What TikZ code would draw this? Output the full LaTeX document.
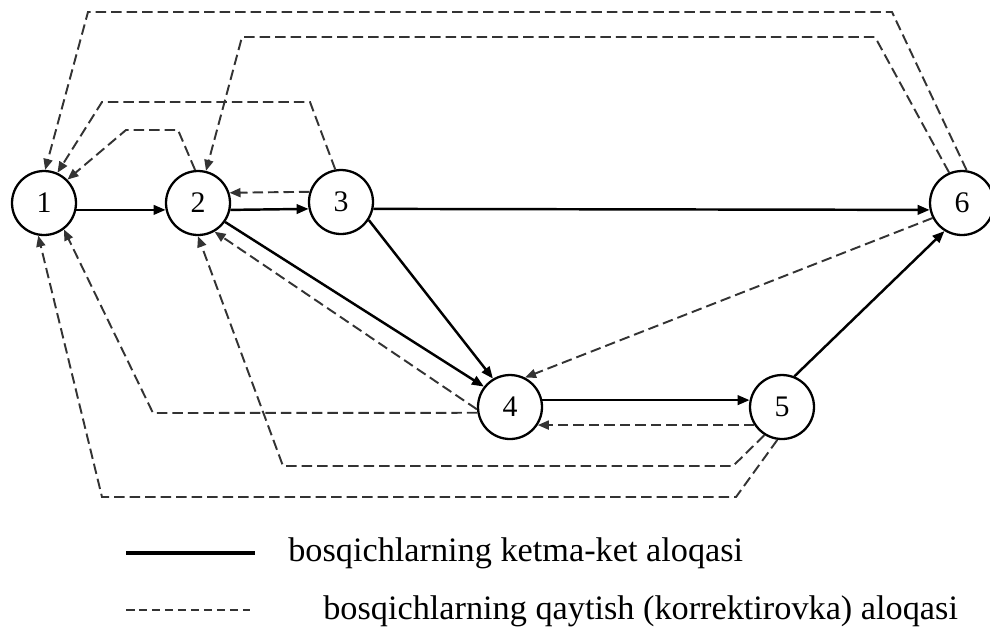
\documentclass[tikz,border=0pt]{standalone}
\usepackage{fontspec}
\setmainfont{Liberation Serif}
\usetikzlibrary{arrows.meta}
\begin{document}
\begin{tikzpicture}[x=0.02cm,y=-0.02cm,
  stage/.style={circle,draw=black,line width=1.3pt,minimum size=1.28cm,inner sep=0pt,fill=white,font=\fontsize{17}{17}\selectfont},
  seqlink/.style={line width=1.4pt,-{Triangle[length=2.4mm,width=1.9mm]}},
  backlink/.style={line width=1.1pt,draw=black!80,dash pattern=on 0.21cm off 0.1cm,-{Triangle[length=2.2mm,width=1.8mm]}},
  legtext/.style={anchor=base west,inner sep=0pt,font=\fontsize{19.5}{23}\selectfont}]
\useasboundingbox (0,0) rectangle (990,627);
% stages
\node[stage] (n1) at (44,203) {1};
\node[stage] (n2) at (198,203) {2};
\node[stage] (n3) at (341,202) {3};
\node[stage] (n6) at (962,203) {6};
\node[stage] (n4) at (510,407) {4};
\node[stage] (n5) at (782,407) {5};
% sequential links
\draw[seqlink] (n1.-12) -- (n2.192);
\draw[seqlink] (n2.-12) -- (n3.192);
\draw[seqlink] (n3.-12) -- (n6.192);
\draw[seqlink] (n2.-35) -- (n4.142);
\draw[seqlink] (n3.-33) -- (n4.121);
\draw[seqlink] (n4.12) -- (n5.168);
\draw[seqlink] (n5.68) -- (n6.238);
% corner points of return links
\coordinate (c61a) at (892,12);
\coordinate (c61b) at (88,12);
\coordinate (c62a) at (875,37);
\coordinate (c62b) at (242,37);
\coordinate (c31a) at (310,102);
\coordinate (c31b) at (102,102);
\coordinate (c21a) at (178,130);
\coordinate (c21b) at (126,130);
\coordinate (c41) at (153,413);
\coordinate (c52a) at (733,466);
\coordinate (c52b) at (283,466);
\coordinate (c51a) at (736,497);
\coordinate (c51b) at (102,497);
% return (correction) links
\draw[backlink] (n3.162) -- (n2.18);
\draw[backlink] (n5.213) -- (n4.-33);
\draw[backlink] (n6.207) -- (n4.63);
\draw[backlink] (n4.184) -- (n2.-60);
\draw[backlink] (n4.190) -- (c41) -- (n1.-53);
\draw[backlink] (n5.238) -- (c52a) -- (c52b) -- (n2.-90);
\draw[backlink] (n5.262) -- (c51a) -- (c51b) -- (n1.-100);
\draw[backlink] (n6.82) -- (c61a) -- (c61b) -- (n1.88);
\draw[backlink] (n6.113) -- (c62a) -- (c62b) -- (n2.76);
\draw[backlink] (n3.100) -- (c31a) -- (c31b) -- (n1.66);
\draw[backlink] (n2.95) -- (c21a) -- (c21b) -- (n1.45);
% legend
\coordinate (ls1) at (126,553);
\coordinate (le1) at (255,553);
\coordinate (ls2) at (126,610);
\coordinate (le2) at (250,610);
\draw[line width=2.3pt] (ls1) -- (le1);
\draw[line width=1.1pt,draw=black!80,dash pattern=on 0.17cm off 0.09cm] (ls2) -- (le2);
\node[legtext] (t1) at (288,561) {bosqichlarning ketma-ket aloqasi};
\node[legtext] (t2) at (323,619) {bosqichlarning qaytish (korrektirovka) aloqasi};
\end{tikzpicture}
\end{document}
